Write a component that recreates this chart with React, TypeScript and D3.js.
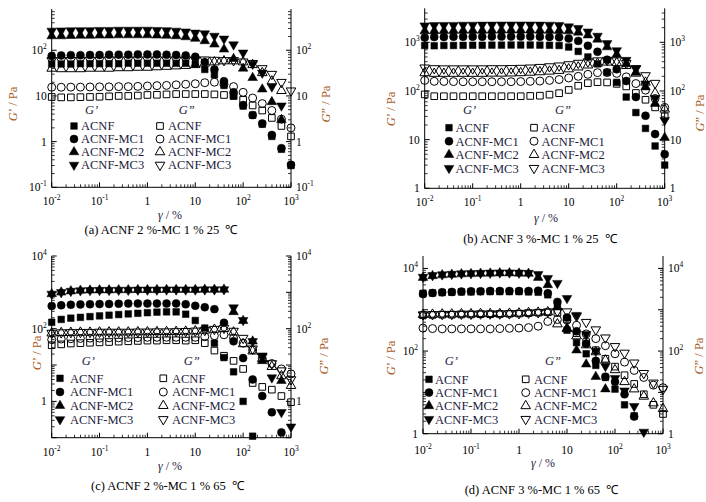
import React from 'react';
import * as d3 from 'd3';

const FONT = '"Liberation Serif","Times New Roman",Times,serif';

// strain amplitude grid (%), 5 points per decade
const strain = [0.01, 0.0158, 0.0251, 0.0398, 0.0631, 0.1, 0.158, 0.251, 0.398, 0.631, 1, 1.58, 2.51, 3.98, 6.31, 10, 15.8, 25.1, 39.8, 63.1, 100, 158, 251, 398, 631, 1000];

const seriesNames = ['ACNF', 'ACNF-MC1', 'ACNF-MC2', 'ACNF-MC3'];
const xTickValues = [0.01, 0.1, 1, 10, 100, 1000];

type V = (number | null)[];

// ---------- (a) ACNF 2 %-MC 1 % 25 ℃ ----------
const aGp_ACNF: V = [50, 50, 50, 51, 51, 51, 51, 51, 52, 52, 52, 52, 52, 52, 52, 50, 38, 29, 17, 10, 6, 3.8, 2.4, 1.3, 0.68, 0.3];
const aGp_MC1: V = [75, 77, 78, 78, 79, 79, 80, 80, 80, 81, 81, 81, 80, 79, 77, 72, 55, 38, 21, 12, 6.3, 3.8, 2.5, 1.4, 0.72, 0.31];
const aGp_MC2: V = [205, 205, 208, 210, 210, 212, 212, 215, 215, 215, 215, 212, 210, 205, 195, 180, 160, 135, 105, 65, 40, 25, 14, 7.4, 3, null];
const aGp_MC3: V = [265, 268, 270, 272, 272, 275, 275, 278, 278, 278, 278, 275, 272, 265, 255, 240, 232, 205, 178, 133, 88, 50, 32, 16, 6.1, null];
const aGpp_ACNF: V = [9.5, 9.3, 9.3, 9.4, 9.5, 9.6, 9.8, 10, 10, 10.2, 10.5, 10.6, 10.8, 11, 11, 11, 11, 10.8, 10.5, 10, 8.2, 6.2, 4.8, 3.3, 2.2, 1.3];
const aGpp_MC1: V = [15.5, 15.5, 15.6, 15.6, 15.7, 15.8, 15.8, 16, 16, 16.2, 16.5, 16.8, 17, 17.5, 18, 18.5, 19.5, 20, 18, 16, 12, 9, 6.8, 4.8, 3.1, 2];
const aGpp_MC2: V = [40, 39, 39, 39, 40, 40, 40, 41, 41, 42, 42, 43, 44, 45, 46, 48, 52, 55, 58, 58, 55, 48, 32, 21, 13, null];
const aGpp_MC3: V = [60, 60, 60, 61, 61, 61, 62, 62, 62, 62, 62, 62, 62, 62, 62, 62, 62, 61, 60, 60, 56, 52, 40, 30, 20, 13];

// ---------- (b) ACNF 3 %-MC 1 % 25 ℃ ----------
const bGp_ACNF: V = [860, 850, 860, 860, 865, 870, 870, 875, 875, 880, 880, 880, 875, 870, 860, 800, 650, 500, 360, 240, 150, 75, 36, 17, 7.4, 3];
const bGp_MC1: V = [1250, 1280, 1290, 1300, 1300, 1300, 1300, 1310, 1310, 1310, 1310, 1310, 1300, 1290, 1270, 1200, 1070, 850, 640, 440, 280, 160, 75, 31, 13, 5];
const bGp_MC2: V = [1700, 1720, 1730, 1740, 1750, 1750, 1760, 1760, 1770, 1770, 1770, 1770, 1760, 1750, 1740, 1700, 1600, 1400, 1150, 800, 560, 360, 240, 120, 55, 11];
const bGp_MC3: V = [2200, 2230, 2250, 2250, 2270, 2270, 2280, 2280, 2290, 2290, 2290, 2290, 2280, 2270, 2250, 2100, 1950, 1650, 1350, 950, 680, 430, 290, 140, 70, 25];
const bGpp_ACNF: V = [85, 78, 78, 78, 78, 78, 78, 78, 78, 78, 78, 79, 80, 84, 90, 105, 128, 145, 152, 150, 140, 124, 91, 66, 46, 30];
const bGpp_MC1: V = [165, 158, 157, 156, 155, 155, 155, 155, 155, 155, 156, 158, 160, 165, 172, 185, 200, 220, 238, 240, 230, 195, 142, 104, 70, 46];
const bGpp_MC2: V = [235, 228, 228, 228, 228, 228, 228, 230, 230, 232, 235, 240, 246, 253, 262, 282, 308, 338, 368, 388, 378, 330, 230, 150, 90, 42];
const bGpp_MC3: V = [300, 290, 288, 288, 288, 288, 288, 290, 290, 292, 295, 300, 308, 318, 330, 350, 375, 400, 420, 430, 420, 370, 290, 208, 145, null];

// ---------- (c) ACNF 2 %-MC 1 % 65 ℃ ----------
const cGp_ACNF: V = [150, 180, 195, 205, 215, 225, 235, 245, 255, 265, 275, 285, 290, 290, 250, 168, 104, 40, 16, 6.5, 1, 0.11, null, null, null, null];
const cGp_MC1: V = [420, 440, 455, 465, 470, 475, 480, 485, 490, 490, 490, 490, 490, 495, 470, 425, 390, 345, 145, 45, 15.5, 4, 1.4, 0.5, 0.14, null];
const cGp_MC2: V = [900, 1000, 1080, 1120, 1140, 1150, 1150, 1160, 1160, 1170, 1170, 1170, 1180, 1180, 1180, 1180, 1190, 1190, 1200, 290, 165, 45, 13, null, 3.7, null];
const cGp_MC3: V = [900, 1000, 1080, 1120, 1140, 1150, 1150, 1160, 1160, 1170, 1170, 1170, 1180, 1180, 1180, 1180, 1190, 1190, 1200, 380, 170, 45, 18, 4.5, 0.5, 0.2];
const cGpp_ACNF: V = [35, 37, 39, 40, 41, 42, 43, 44, 45, 46, 47, 47, 48, 48, 47, 48, 40, 25, 18, 13, 7.8, 3.2, 2.5, 2.1, 1.4, 0.95];
const cGpp_MC1: V = [50, 52, 53, 54, 55, 55, 56, 56, 57, 57, 58, 58, 58, 58, 58, 58, 60, 64, 68, 55, 40, 26, 15, 11, 7.8, 5.7];
const cGpp_MC2: V = [75, 77, 78, 79, 79, 80, 80, 80, 80, 81, 81, 82, 82, 83, 84, 86, 90, 95, 100, 80, 38, 24, 15, 9, 5, 2.7];
const cGpp_MC3: V = [76, 78, 79, 80, 80, 81, 81, 81, 81, 82, 82, 83, 83, 84, 85, 87, 91, 97, 104, 86, 55, 28, 17, 11, 7, 4];

// ---------- (d) ACNF 3 %-MC 1 % 65 ℃ ----------
const dGp_ACNF: V = [2500, 2550, 2600, 2650, 2700, 2700, 2750, 2750, 2750, 2750, 2750, 2700, 2650, 2300, 1300, 320, 160, 86, 45, 23, 12, 5, 2.7, null, null, null];
const dGp_MC1: V = [2400, 2550, 2650, 2700, 2750, 2800, 2800, 2850, 2850, 2850, 2850, 2850, 2900, 2500, 1550, 650, 300, 150, 58, 24, 18, 9, 2.6, null, null, null];
const dGp_MC2: V = [6000, 6600, 6900, 7100, 7300, 7400, 7500, 7600, 7700, 7700, 7600, 7500, 6000, 4000, 1150, 350, 105, 48, 24, 12, null, null, null, null, null, null];
const dGp_MC3: V = [6200, 6800, 7100, 7300, 7500, 7600, 7700, 7800, 7900, 7900, 7800, 7700, 7200, 5800, 4400, 1900, 740, 256, 100, 43, 22, 11, 4.6, 1.1, null, null];
const dGpp_ACNF: V = [740, 750, 760, 760, 770, 770, 780, 780, 790, 800, 810, 830, 850, 870, 850, 600, 270, 165, 105, 65, 42, 26, 16, 9, 5, 3];
const dGpp_MC1: V = [360, 350, 345, 345, 345, 345, 345, 345, 350, 355, 360, 370, 400, 520, 580, 560, 420, 260, 200, 135, 86, 54, 34, 23, 15, 13];
const dGpp_MC2: V = [760, 770, 780, 780, 790, 790, 800, 800, 800, 810, 820, 840, 860, 880, 450, 350, 230, 140, 95, 60, 35, 18, 12, 8, 5.5, 4];
const dGpp_MC3: V = [760, 770, 780, 780, 790, 790, 800, 800, 800, 810, 820, 840, 860, 890, 920, 900, 700, 500, 330, 210, 130, 90, 52, 29, 17, 12];

type PanelCfg = {
  L: number; R: number; T: number; B: number;
  yDomain: [number, number];
  yLabels: number[];
  gp: V[]; gpp: V[];
  xLabelDy: number;
  gamma: [number, number];
  caption: string; capPos: [number, number];
  leftTitle: [number, number]; rightTitle: [number, number];
  hdr1: [number, number]; hdr2: [number, number];
  sym1: number; txt1: number; sym2: number; txt2: number;
  row0: number; rowStep: number;
};

const panels: PanelCfg[] = [
  {
    L: 51.7, R: 291, T: 9, B: 187.3, yDomain: [0.1, 800], yLabels: [0.1, 1, 10, 100],
    gp: [aGp_ACNF, aGp_MC1, aGp_MC2, aGp_MC3], gpp: [aGpp_ACNF, aGpp_MC1, aGpp_MC2, aGpp_MC3],
    xLabelDy: 18, gamma: [170, 219], caption: '(a) ACNF 2 %-MC 1 % 25  \u2103', capPos: [161, 234],
    leftTitle: [13, 104], rightTitle: [326, 104],
    hdr1: [91.7, 114], hdr2: [186.7, 114], sym1: 74, txt1: 81, sym2: 160, txt2: 168, row0: 126, rowStep: 13,
  },
  {
    L: 424.7, R: 664.7, T: 8.3, B: 188.3, yDomain: [1, 5000], yLabels: [1, 10, 100, 1000],
    gp: [bGp_ACNF, bGp_MC1, bGp_MC2, bGp_MC3], gpp: [bGpp_ACNF, bGpp_MC1, bGpp_MC2, bGpp_MC3],
    xLabelDy: 17.5, gamma: [546, 222], caption: '(b) ACNF 3 %-MC 1 % 25  \u2103', capPos: [540, 242.5],
    leftTitle: [391, 109], rightTitle: [699.5, 113],
    hdr1: [469.7, 114], hdr2: [563, 114], sym1: 449, txt1: 455.5, sym2: 534, txt2: 541.5, row0: 127.7, rowStep: 13.5,
  },
  {
    L: 51.7, R: 291, T: 256, B: 437.7, yDomain: [0.1, 10000], yLabels: [1, 100, 10000],
    gp: [cGp_ACNF, cGp_MC1, cGp_MC2, cGp_MC3], gpp: [cGpp_ACNF, cGpp_MC1, cGpp_MC2, cGpp_MC3],
    xLabelDy: 18.5, gamma: [170, 470], caption: '(c) ACNF 2 %-MC 1 % 65  \u2103', capPos: [167.5, 490],
    leftTitle: [36.7, 353], rightTitle: [324, 356],
    hdr1: [88.3, 365], hdr2: [191.7, 365], sym1: 60, txt1: 70, sym2: 163.3, txt2: 172, row0: 378.3, rowStep: 13.7,
  },
  {
    L: 423, R: 663, T: 256, B: 433.7, yDomain: [1, 20000], yLabels: [1, 100, 10000],
    gp: [dGp_ACNF, dGp_MC1, dGp_MC2, dGp_MC3], gpp: [dGpp_ACNF, dGpp_MC1, dGpp_MC2, dGpp_MC3],
    xLabelDy: 20, gamma: [543, 467], caption: '(d) ACNF 3 %-MC 1 % 65  \u2103', capPos: [541.5, 493.5],
    leftTitle: [390.5, 358], rightTitle: [698.5, 356],
    hdr1: [451.3, 365], hdr2: [553, 365], sym1: 429, txt1: 435, sym2: 525.7, txt2: 534, row0: 379.3, rowStep: 13.3,
  },
];

const symTypes = [d3.symbolSquare, d3.symbolCircle, d3.symbolTriangle, d3.symbolTriangle];
const symSizes = [44, 50, 40, 40];
const symPaths = symTypes.map((t, k) => d3.symbol().type(t).size(symSizes[k])() as string);

function Marker({ k, x, y, open }: { k: number; x: number; y: number; open: boolean }) {
  return (
    <path
      d={symPaths[k]}
      transform={`translate(${x},${y})${k === 3 ? ' rotate(180)' : ''}`}
      fill={open ? 'none' : '#000'}
      stroke="#000"
      strokeWidth={open ? 1 : 0.5}
    />
  );
}

function PowText({ v, x, y, anchor }: { v: number; x: number; y: number; anchor: string }) {
  const e = Math.round(Math.log10(v));
  const base = e === 0 ? '1' : '10';
  const sup = e === 0 || e === 1 ? '' : String(e);
  return (
    <text x={x} y={y} textAnchor={anchor as any} fontSize={11.5} fontFamily={FONT} fill="#000">
      {base}
      {sup && <tspan fontSize={7.5} dy={-5}>{sup}</tspan>}
    </text>
  );
}

function minorTicks(lo: number, hi: number): number[] {
  const out: number[] = [];
  for (let e = Math.floor(Math.log10(lo)); e <= Math.ceil(Math.log10(hi)); e++) {
    for (let k = 2; k <= 9; k++) {
      const v = k * Math.pow(10, e);
      if (v > lo * 1.0001 && v < hi * 0.9999) out.push(v);
    }
  }
  return out;
}
function majorTicks(lo: number, hi: number): number[] {
  const out: number[] = [];
  for (let e = Math.floor(Math.log10(lo)); e <= Math.ceil(Math.log10(hi)); e++) {
    const v = Math.pow(10, e);
    if (v >= lo * 0.9999 && v <= hi * 1.0001) out.push(v);
  }
  return out;
}

function Panel({ p }: { p: PanelCfg }) {
  const x = d3.scaleLog().domain([0.01, 1000]).range([p.L, p.R]);
  const y = d3.scaleLog().domain(p.yDomain).range([p.B, p.T]);
  const xMaj = majorTicks(0.01, 1000);
  const xMin = minorTicks(0.01, 1000);
  const yMaj = majorTicks(p.yDomain[0], p.yDomain[1]);
  const yMin = minorTicks(p.yDomain[0], p.yDomain[1]);
  const titleColor = '#a85a24';
  const legendColor = '#1c1c3c';
  const lines: React.ReactNode[] = [];
  lines.push(<line key="xa" x1={p.L} x2={p.R} y1={p.B} y2={p.B} stroke="#000" strokeWidth={1} />);
  lines.push(<line key="ya" x1={p.L} x2={p.L} y1={p.T} y2={p.B} stroke="#000" strokeWidth={1} />);
  lines.push(<line key="yb" x1={p.R} x2={p.R} y1={p.T} y2={p.B} stroke="#000" strokeWidth={1} />);
  xMaj.forEach((v, i) => lines.push(<line key={'xM' + i} x1={x(v)} x2={x(v)} y1={p.B} y2={p.B - 5} stroke="#000" />));
  xMin.forEach((v, i) => lines.push(<line key={'xm' + i} x1={x(v)} x2={x(v)} y1={p.B} y2={p.B - 3} stroke="#000" strokeWidth={0.8} />));
  yMaj.forEach((v, i) => {
    lines.push(<line key={'yM' + i} x1={p.L} x2={p.L + 5} y1={y(v)} y2={y(v)} stroke="#000" />);
    lines.push(<line key={'yMr' + i} x1={p.R} x2={p.R - 5} y1={y(v)} y2={y(v)} stroke="#000" />);
  });
  yMin.forEach((v, i) => {
    lines.push(<line key={'ym' + i} x1={p.L} x2={p.L + 3} y1={y(v)} y2={y(v)} stroke="#000" strokeWidth={0.8} />);
    lines.push(<line key={'ymr' + i} x1={p.R} x2={p.R - 3} y1={y(v)} y2={y(v)} stroke="#000" strokeWidth={0.8} />);
  });

  const marks: React.ReactNode[] = [];
  p.gp.forEach((s, k) =>
    s.forEach((v, i) => {
      if (v == null) return;
      marks.push(<Marker key={`f${k}-${i}`} k={k} x={x(strain[i])} y={y(v)} open={false} />);
    })
  );
  p.gpp.forEach((s, k) =>
    s.forEach((v, i) => {
      if (v == null) return;
      marks.push(<Marker key={`o${k}-${i}`} k={k} x={x(strain[i])} y={y(v)} open={true} />);
    })
  );

  return (
    <g>
      {lines}
      {marks}
      {xTickValues.map((v, i) => (
        <PowText key={'xl' + i} v={v} x={x(v)} y={p.B + p.xLabelDy} anchor="middle" />
      ))}
      {p.yLabels.map((v, i) => (
        <PowText key={'yl' + i} v={v} x={p.L - 5} y={y(v) + 4} anchor="end" />
      ))}
      {p.yLabels.map((v, i) => (
        <PowText key={'yr' + i} v={v} x={p.R + 5} y={y(v) + 4} anchor="start" />
      ))}
      <text x={p.gamma[0]} y={p.gamma[1]} textAnchor="middle" fontSize={12} fontFamily={FONT} fill={legendColor}>
        <tspan fontStyle="italic">{'\u03B3'}</tspan>{' / %'}
      </text>
      <text x={p.capPos[0]} y={p.capPos[1]} textAnchor="middle" fontSize={12.5} fontFamily={FONT} fill="#000" style={{ whiteSpace: 'pre' }}>
        {p.caption}
      </text>
      <text transform={`translate(${p.leftTitle[0]},${p.leftTitle[1]}) rotate(-90)`} textAnchor="middle" dominantBaseline="central" fontSize={12.5} fontFamily={FONT} fill={titleColor}>
        <tspan fontStyle="italic">G</tspan>{'\u2019 / Pa'}
      </text>
      <text transform={`translate(${p.rightTitle[0]},${p.rightTitle[1]}) rotate(-90)`} textAnchor="middle" dominantBaseline="central" fontSize={12.5} fontFamily={FONT} fill={titleColor}>
        <tspan fontStyle="italic">G</tspan>{'\u201D / Pa'}
      </text>
      <text x={p.hdr1[0]} y={p.hdr1[1]} textAnchor="middle" fontSize={12.5} fontFamily={FONT} fontStyle="italic" fill={legendColor}>{'G\u2019'}</text>
      <text x={p.hdr2[0]} y={p.hdr2[1]} textAnchor="middle" fontSize={12.5} fontFamily={FONT} fontStyle="italic" fill={legendColor}>{'G\u201D'}</text>
      {seriesNames.map((n, k) => {
        const ry = p.row0 + k * p.rowStep;
        return (
          <g key={'lg' + k}>
            <Marker k={k} x={p.sym1} y={ry} open={false} />
            <text x={p.txt1} y={ry + 4.3} fontSize={12.5} fontFamily={FONT} fill={legendColor}>{n}</text>
            <Marker k={k} x={p.sym2} y={ry} open={true} />
            <text x={p.txt2} y={ry + 4.3} fontSize={12.5} fontFamily={FONT} fill={legendColor}>{n}</text>
          </g>
        );
      })}
    </g>
  );
}

export default function App() {
  return (
    <svg width={706} height={502} viewBox="0 0 706 502" style={{ position: 'absolute', left: 0, top: 0, background: '#fff' }}>
      <rect x={0} y={0} width={706} height={502} fill="#fff" />
      {panels.map((p, i) => (
        <Panel key={i} p={p} />
      ))}
    </svg>
  );
}
